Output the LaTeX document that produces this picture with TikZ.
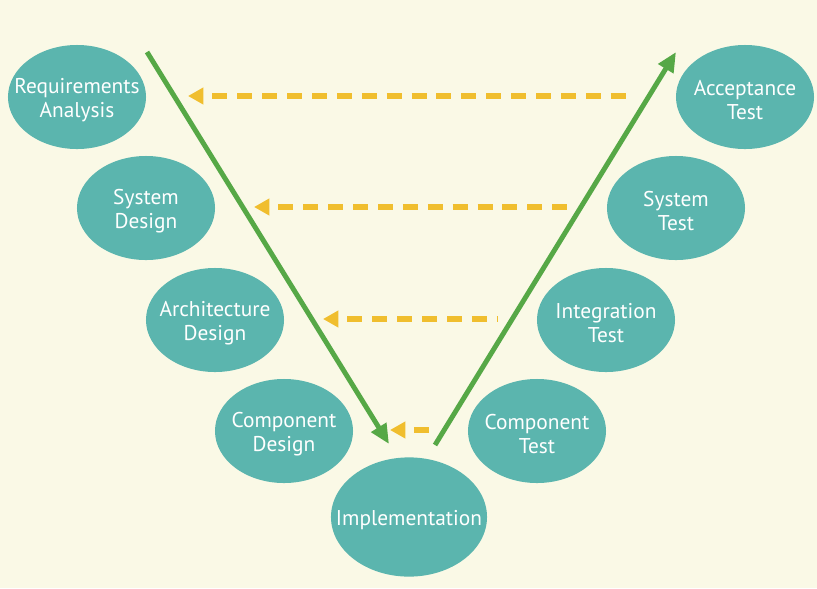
\documentclass[tikz,border=0pt]{standalone}
\usepackage{fontspec}
\setmainfont{PT Sans}
\usetikzlibrary{shapes.geometric,arrows.meta}

\definecolor{bgcream}{HTML}{FAF9E6}
\definecolor{phaseteal}{HTML}{5BB5AE}
\definecolor{flowgreen}{HTML}{56A846}
\definecolor{backyellow}{HTML}{F0BE2E}

\begin{document}
\begin{tikzpicture}[x=0.025cm, y=-0.025cm,
  phase/.style={ellipse, fill=phaseteal, inner sep=0pt,
    minimum width=3.45cm, minimum height=2.6cm,
    label={[phasetext]center:#1}},
  phasetext/.style={text=white, align=center, yshift=-2.3pt,
    font=\fontsize{15.2}{17}\selectfont},
  flow/.style={flowgreen, line width=3.5pt, -{Triangle[length=14pt, width=12pt]}},
  back/.style={backyellow, line width=4.2pt, {Triangle[length=11pt, width=11.5pt]}-,
    dash pattern=on 10.6pt off 7.1pt, dash phase=10.6pt}]

% Background
\fill[bgcream] (0,0) rectangle (817,588);

% Left side of the V
\node[phase={Requirements\\Analysis}] (req) at (77,97) {};
\node[phase={System\\Design}] (sysd) at (146,208) {};
\node[phase={Architecture\\Design}] (arch) at (215,320) {};
\node[phase={Component\\Design}] (compd) at (284,431) {};

% Bottom
\node[phase={Implementation}, minimum width=3.9cm, minimum height=2.98cm] (impl) at (409,517) {};

% Right side of the V
\node[phase={Component\\Test}] (compt) at (537,431) {};
\node[phase={Integration\\Test}] (integ) at (606,320) {};
\node[phase={System\\Test}] (syst) at (676,208) {};
\node[phase={Acceptance\\Test}] (acc) at (745,97) {};

% Ends of the green arrows
\coordinate (downstart) at (147,52);
\coordinate (downend) at (389,444);
\coordinate (upstart) at (435,445);
\coordinate (upend) at (676,52);

\draw[flow] (downstart) -- (downend);
\draw[flow] (upstart) -- (upend);

% Ends of the yellow arrows
\coordinate (back1l) at (188,96);  \coordinate (back1r) at (633,96);
\coordinate (back2l) at (254,207); \coordinate (back2r) at (567,207);
\coordinate (back3l) at (323,319); \coordinate (back3r) at (498,319);
\coordinate (back4l) at (390,430); \coordinate (back4r) at (431,430);

\foreach \i in {1,...,4}
  \draw[back] (back\i l) -- (back\i r);

\end{tikzpicture}
\end{document}
